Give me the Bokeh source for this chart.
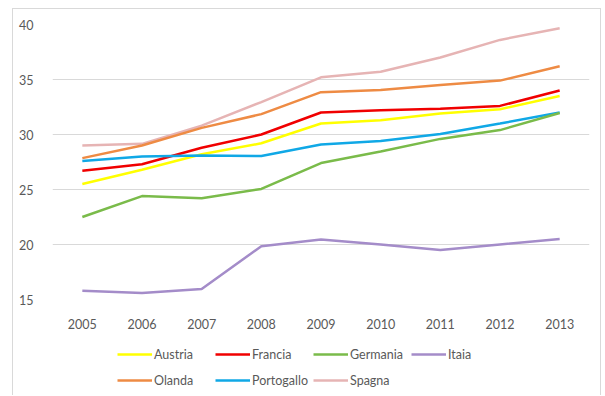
from bokeh.plotting import figure
from bokeh.models import Legend, LegendItem, Range1d, FixedTicker
from bokeh.layouts import column
from bokeh.embed import file_html
from bokeh.resources import INLINE

years = ["2005", "2006", "2007", "2008", "2009", "2010", "2011", "2012", "2013"]
austria = [25.5, 26.8, 28.2, 29.2, 31.0, 31.3, 31.9, 32.3, 33.5]
francia = [26.7, 27.3, 28.8, 30.0, 32.0, 32.2, 32.35, 32.6, 34.0]
germania = [22.5, 24.4, 24.2, 25.05, 27.4, 28.45, 29.6, 30.4, 31.95]
italia = [15.8, 15.6, 15.95, 19.85, 20.45, 20.0, 19.5, 20.0, 20.5]
olanda = [27.85, 29.0, 30.6, 31.85, 33.85, 34.05, 34.5, 34.9, 36.2]
portogallo = [27.6, 28.0, 28.1, 28.05, 29.1, 29.4, 30.05, 31.0, 32.0]
spagna = [29.0, 29.15, 30.8, 32.95, 35.2, 35.7, 37.0, 38.6, 39.65]

labels = ["Austria", "Francia", "Germania", "Itaia", "Olanda", "Portogallo", "Spagna"]
series = [austria, francia, germania, italia, olanda, portogallo, spagna]
colors = ["#FFFF00", "#F00000", "#7ABB4A", "#A48CC9", "#EE8B44", "#10A8E6", "#E6B4B4"]
y_ticks = [15, 20, 25, 30, 35, 40]

p = figure(width=587, height=322, x_range=years, y_range=Range1d(15, 40),
           output_backend="svg", toolbar_location=None,
           min_border_left=39, min_border_right=11, min_border_top=15, min_border_bottom=30)
p.outline_line_color = None
p.background_fill_color = "white"
p.border_fill_color = "white"

p.xgrid.grid_line_color = None
p.ygrid.grid_line_color = "#D9D9D9"
p.ygrid.grid_line_width = 1
p.yaxis.ticker = FixedTicker(ticks=y_ticks)

for ax in (p.xaxis, p.yaxis):
    ax.axis_line_color = None
    ax.major_tick_line_color = None
    ax.minor_tick_line_color = None
    ax.major_label_text_font = "Lato"
    ax.major_label_text_font_size = "12.5px"
    ax.major_label_text_color = "#595959"
p.xaxis.major_label_standoff = 13
p.yaxis.major_label_standoff = 13

order = [6, 4, 1, 0, 5, 2, 3]
for i in order:
    p.line(years, series[i], line_color=colors[i], line_width=2.5)

# legend panel
lg = figure(width=587, height=64, x_range=Range1d(0, 1), y_range=Range1d(0, 1),
            output_backend="svg", toolbar_location=None,
            min_border_left=0, min_border_right=0, min_border_top=0, min_border_bottom=0)
lg.axis.visible = False
lg.grid.visible = False
lg.outline_line_color = None
lg.border_fill_color = "white"
nan = float("nan")
items = []
for i in range(len(labels)):
    r = lg.line(x=[nan, nan], y=[nan, nan], line_color=colors[i], line_width=2.5)
    items.append(LegendItem(label=labels[i], renderers=[r]))

legend = Legend(items=items, ncols=4, orientation="horizontal", location=(65, 4),
                label_text_font="Lato", label_text_font_size="12.5px",
                label_text_color="#595959", glyph_width=35, glyph_height=16,
                label_standoff=2, spacing=4, padding=0, margin=0,
                border_line_color=None, background_fill_alpha=0,
                label_height=22, label_width=57)
lg.add_layout(legend, "center")

layout = column(p, lg, spacing=0, margin=(8, 0, 0, 12),
                styles={"border-top": "1px solid #D9D9D9",
                        "border-left": "1px solid #D9D9D9",
                        "border-right": "1px solid #D9D9D9"})
open("out.html", "w").write(file_html(layout, INLINE))
